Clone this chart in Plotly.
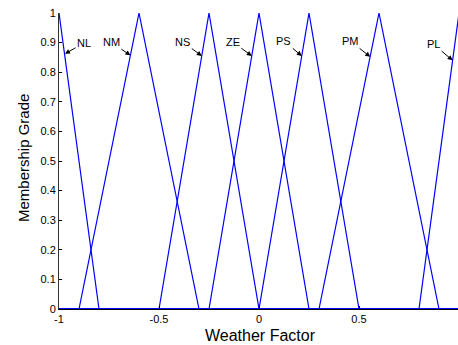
import plotly.graph_objects as go

# Membership functions (triangles): left foot, peak, right foot
mf_names = ["NL", "NM", "NS", "ZE", "PS", "PM", "PL"]
mf_left = [-1.0, -0.9, -0.5, -0.25, 0.0, 0.3, 0.8]
mf_peak = [-1.0, -0.6, -0.25, 0.0, 0.25, 0.6, 1.0]
mf_right = [-0.8, -0.3, 0.0, 0.25, 0.5, 0.9, 1.0]

# Label arrow targets (on each curve)
label_x = [-0.97, -0.643, -0.286, -0.036, 0.214, 0.556, 0.968]
label_y = [0.862, 0.857, 0.855, 0.855, 0.855, 0.852, 0.84]
label_ax = [19, -19, -19, -19, -18, -20, -19]
label_ay = [-11, -13, -14, -14, -15, -16, -16]

x_ticks = [-1, -0.5, 0, 0.5, 1]
x_tick_text = ["-1", "-0.5", "0", "0.5", "1"]
y_ticks = [0, 0.1, 0.2, 0.3, 0.4, 0.5, 0.6, 0.7, 0.8, 0.9, 1]
y_tick_text = ["0", "0.1", "0.2", "0.3", "0.4", "0.5", "0.6", "0.7", "0.8", "0.9", "1"]

FONT = "Liberation Sans, Arial, sans-serif"

W, H = 458, 345
L, R, T = 59, 0, 13
PH = 296
B = H - T - PH
PW = W - L - R

fig = go.Figure()
for name, a, b, c in zip(mf_names, mf_left, mf_peak, mf_right):
    xs, ys = [], []
    if a > -1.0:
        xs += [-1.0, a]
        ys += [0, 0]
    xs.append(b)
    ys.append(1)
    if c < 1.0:
        xs += [c, 1.0]
        ys += [0, 0]
    fig.add_trace(go.Scatter(x=xs, y=ys, mode="lines", name=name,
                             line=dict(color="#0000ff", width=1.2),
                             showlegend=False, hoverinfo="skip", cliponaxis=False))

for name, x, y, ax, ay in zip(mf_names, label_x, label_y, label_ax, label_ay):
    fig.add_annotation(x=x, y=y, text=name, showarrow=True, ax=ax, ay=ay,
                       arrowhead=2, arrowsize=1, arrowwidth=1, arrowcolor="black",
                       standoff=0, startstandoff=0,
                       font=dict(family=FONT, size=11, color="black"))


def px_to_paper(px, py):
    return (px - L) / PW, 1 - (py - T) / PH


tx, ty = px_to_paper(260, 335)
fig.add_annotation(x=tx, y=ty, xref="paper", yref="paper", text="Weather Factor",
                   showarrow=False, xanchor="center", yanchor="middle",
                   font=dict(family=FONT, size=16, color="black"))
tx, ty = px_to_paper(23, 158)
fig.add_annotation(x=tx, y=ty, xref="paper", yref="paper", text="Membership Grade",
                   showarrow=False, textangle=-90, xanchor="center", yanchor="middle",
                   font=dict(family=FONT, size=15, color="black"))

fig.update_layout(
    width=W, height=H,
    margin=dict(l=L, r=R, t=T, b=B, autoexpand=False),
    paper_bgcolor="white", plot_bgcolor="white",
    font=dict(family=FONT, size=11, color="black"),
    xaxis=dict(range=[-1, 0.995], tickmode="array", tickvals=x_ticks, ticktext=x_tick_text,
               ticks="inside", ticklen=3, tickcolor="black", showgrid=False, zeroline=False,
               showline=True, linecolor="black", linewidth=1, mirror=False, automargin=False,
               ticklabeloverflow="allow", tickfont=dict(size=11)),
    yaxis=dict(range=[0, 1], tickmode="array", tickvals=y_ticks, ticktext=y_tick_text,
               ticks="inside", ticklen=3, tickcolor="black", showgrid=False, zeroline=False,
               showline=True, linecolor="#333333", linewidth=1, mirror=False, automargin=False,
               ticklabeloverflow="allow", tickfont=dict(size=11)),
)

fig.write_html("out.html",
               config={"displayModeBar": False},
               post_script="document.body.style.margin='0px';document.body.style.overflow='hidden';")
